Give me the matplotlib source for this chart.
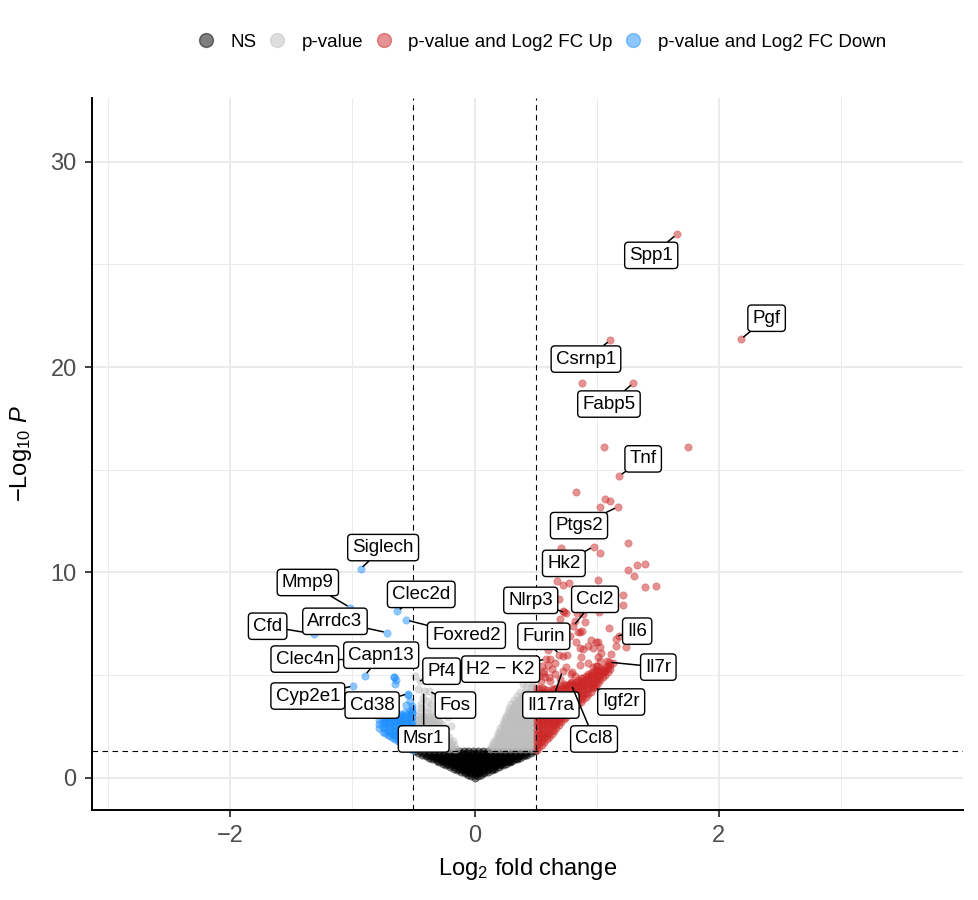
import matplotlib
matplotlib.use("Agg")
import matplotlib.pyplot as plt
from matplotlib.lines import Line2D
from matplotlib.ticker import FixedLocator

plt.rcParams.update({
    "font.family": "Liberation Sans",
    "mathtext.fontset": "custom",
    "mathtext.rm": "Liberation Sans",
    "mathtext.it": "Liberation Sans:italic",
    "mathtext.bf": "Liberation Sans:bold",
})

# ── thresholds
FC_CUT = 0.5
P_CUT = 1.301          # -log10(0.05)

# ── labelled genes: point (x, y) and label box centre (tx, ty)
lab_gene = ["Spp1", "Pgf", "Csrnp1", "Fabp5", "Tnf", "Ptgs2", "Hk2", "Nlrp3", "Ccl2",
            "Furin", "Il6", "H2 \u2212 K2", "Il7r", "Il17ra", "Igf2r", "Ccl8",
            "Siglech", "Mmp9", "Clec2d", "Cfd", "Arrdc3", "Foxred2", "Clec4n", "Capn13",
            "Cyp2e1", "Cd38", "Pf4", "Fos", "Msr1"]
lab_x = [1.654, 2.18, 1.11, 1.30, 1.185, 1.171, 0.974, 0.746, 0.809,
         0.694, 1.18, 0.584, 1.10, 0.72, 0.98, 0.79,
         -0.933, -1.018, -0.631, -1.31, -0.719, -0.557, -1.0, -0.897,
         -0.993, -0.546, -0.444, -0.375, -0.416]
lab_y = [26.46, 21.36, 21.3, 19.22, 14.7, 13.19, 11.26, 8.03, 7.39,
         6.0, 6.92, 5.78, 5.63, 5.21, 4.42, 4.56,
         10.17, 8.29, 8.12, 7.0, 7.07, 7.68, 5.75, 4.98,
         4.47, 4.1, 4.72, 4.24, 4.24]
lab_tx = [1.446, 2.39, 0.912, 1.10, 1.38, 0.855, 0.731, 0.46, 0.986,
          0.567, 1.331, 0.214, 1.504, 0.625, 1.20, 0.978,
          -0.748, -1.364, -0.436, -1.693, -1.142, -0.066, -1.389, -0.764,
          -1.364, -0.838, -0.27, -0.156, -0.416]
lab_ty = [25.44, 22.38, 20.39, 18.2, 15.53, 12.28, 10.44, 8.64, 8.69,
          6.89, 7.14, 5.29, 5.39, 3.54, 3.69, 1.89,
          11.21, 9.51, 8.93, 7.38, 7.62, 6.94, 5.78, 5.97,
          3.98, 3.54, 5.19, 3.54, 1.89]

# ── NS (black): rows of the dense V under the p threshold
ns_levels = [0.0, 0.075, 0.15, 0.225, 0.3, 0.375, 0.45, 0.525, 0.6, 0.675, 0.75,
             0.825, 0.9, 0.975, 1.05, 1.125, 1.2, 1.28]
ns_rows = [
    [0.0],
    [-0.025, 0.025],
    [-0.05, 0.0, 0.05],
    [-0.08, -0.04, 0.0, 0.04, 0.08],
    [-0.11, -0.07, -0.035, 0.0, 0.035, 0.07, 0.11],
    [-0.14, -0.10, -0.06, -0.02, 0.02, 0.06, 0.10, 0.14],
    [-0.17, -0.13, -0.09, -0.05, -0.01, 0.03, 0.07, 0.11, 0.15, 0.17],
    [-0.20, -0.16, -0.12, -0.08, -0.04, 0.0, 0.04, 0.08, 0.12, 0.16, 0.20],
    [-0.23, -0.19, -0.15, -0.11, -0.07, -0.03, 0.01, 0.05, 0.09, 0.13, 0.17, 0.21, 0.23],
    [-0.26, -0.22, -0.18, -0.14, -0.10, -0.06, -0.02, 0.02, 0.06, 0.10, 0.14, 0.18, 0.22, 0.26],
    [-0.29, -0.25, -0.21, -0.17, -0.13, -0.09, -0.05, -0.01, 0.03, 0.07, 0.11, 0.15,
     0.19, 0.23, 0.27, 0.29],
    [-0.31, -0.27, -0.23, -0.19, -0.15, -0.11, -0.07, -0.03, 0.01, 0.05, 0.09, 0.13,
     0.17, 0.21, 0.25, 0.29, 0.31],
    [-0.35, -0.31, -0.27, -0.23, -0.19, -0.15, -0.11, -0.07, -0.03, 0.01, 0.05, 0.09,
     0.13, 0.17, 0.21, 0.25, 0.29, 0.33, 0.35],
    [-0.37, -0.33, -0.29, -0.25, -0.21, -0.17, -0.13, -0.09, -0.05, -0.01, 0.03, 0.07,
     0.11, 0.15, 0.19, 0.23, 0.27, 0.31, 0.35, 0.37],
    [-0.40, -0.36, -0.32, -0.28, -0.24, -0.20, -0.16, -0.12, -0.08, -0.04, 0.0, 0.04,
     0.08, 0.12, 0.16, 0.20, 0.24, 0.28, 0.32, 0.36, 0.40],
    [-0.43, -0.39, -0.35, -0.31, -0.27, -0.23, -0.19, -0.15, -0.11, -0.07, -0.03, 0.01,
     0.05, 0.09, 0.13, 0.17, 0.21, 0.25, 0.29, 0.33, 0.37, 0.41, 0.43],
    [-0.46, -0.42, -0.38, -0.34, -0.30, -0.26, -0.22, -0.18, -0.14, -0.10, -0.06, -0.02,
     0.02, 0.06, 0.10, 0.14, 0.18, 0.22, 0.26, 0.30, 0.34, 0.38, 0.42, 0.46],
    [-0.49, -0.45, -0.41, -0.37, -0.33, -0.29, -0.25, -0.21, -0.17, -0.13, -0.09, -0.05,
     -0.01, 0.03, 0.07, 0.11, 0.15, 0.19, 0.23, 0.27, 0.31, 0.35, 0.39, 0.43, 0.47, 0.495],
]

# ── p-value only (grey): rows right and left of zero
grey_levels_r = [1.4, 1.5, 1.6, 1.7, 1.8, 1.9, 2.0, 2.1, 2.2, 2.3, 2.4, 2.5, 2.6, 2.7, 2.8,
                 2.9, 3.0, 3.1, 3.2, 3.3, 3.4, 3.5, 3.6, 3.7, 3.8, 3.9, 4.0, 4.2, 4.4]
grey_rows_r = [
    [0.13, 0.17, 0.21, 0.25, 0.29, 0.33, 0.37, 0.41, 0.45, 0.49],
    [0.15, 0.19, 0.23, 0.27, 0.31, 0.35, 0.39, 0.43, 0.47],
    [0.14, 0.18, 0.22, 0.26, 0.30, 0.34, 0.38, 0.42, 0.46, 0.49],
    [0.16, 0.20, 0.24, 0.28, 0.32, 0.36, 0.40, 0.44, 0.48],
    [0.16, 0.20, 0.24, 0.28, 0.32, 0.36, 0.40, 0.44, 0.48],
    [0.18, 0.22, 0.26, 0.30, 0.34, 0.38, 0.42, 0.46],
    [0.18, 0.22, 0.26, 0.30, 0.34, 0.38, 0.42, 0.46, 0.49],
    [0.20, 0.24, 0.28, 0.32, 0.36, 0.40, 0.44, 0.48],
    [0.19, 0.23, 0.27, 0.31, 0.35, 0.39, 0.43, 0.47],
    [0.21, 0.25, 0.29, 0.33, 0.37, 0.41, 0.45],
    [0.21, 0.25, 0.29, 0.33, 0.37, 0.41, 0.45, 0.49],
    [0.23, 0.27, 0.31, 0.35, 0.39, 0.43, 0.47],
    [0.23, 0.27, 0.31, 0.35, 0.39, 0.43, 0.47],
    [0.25, 0.29, 0.33, 0.37, 0.41, 0.45, 0.49],
    [0.24, 0.28, 0.32, 0.36, 0.40, 0.44, 0.48],
    [0.26, 0.30, 0.34, 0.38, 0.42, 0.46],
    [0.26, 0.30, 0.34, 0.38, 0.42, 0.46, 0.49],
    [0.28, 0.32, 0.36, 0.40, 0.44, 0.48],
    [0.27, 0.31, 0.35, 0.39, 0.43, 0.47],
    [0.30, 0.34, 0.38, 0.42, 0.46],
    [0.28, 0.32, 0.36, 0.40, 0.44, 0.48],
    [0.32, 0.36, 0.40, 0.44, 0.48],
    [0.30, 0.34, 0.38, 0.42, 0.46, 0.49],
    [0.34, 0.38, 0.42, 0.46],
    [0.32, 0.36, 0.40, 0.44, 0.48],
    [0.38, 0.42, 0.46],
    [0.35, 0.39, 0.43, 0.47],
    [0.37, 0.41, 0.45, 0.49],
    [0.42, 0.46, 0.49],
]
grey_levels_l = [1.4, 1.5, 1.6, 1.7, 1.8, 1.9, 2.0, 2.1, 2.2, 2.3, 2.4, 2.5, 2.6, 2.7,
                 2.8, 2.9, 3.0, 3.2, 3.4, 3.6]
grey_rows_l = [
    [-0.49, -0.45, -0.41, -0.37, -0.33, -0.29, -0.25, -0.21, -0.17, -0.15],
    [-0.47, -0.43, -0.39, -0.35, -0.31, -0.27, -0.23, -0.19],
    [-0.49, -0.45, -0.41, -0.37, -0.33, -0.29, -0.25, -0.21, -0.17],
    [-0.47, -0.43, -0.39, -0.35, -0.31, -0.27, -0.23, -0.19],
    [-0.49, -0.45, -0.41, -0.37, -0.33, -0.29, -0.25, -0.21, -0.18],
    [-0.47, -0.43, -0.39, -0.35, -0.31, -0.27, -0.23],
    [-0.49, -0.45, -0.41, -0.37, -0.33, -0.29, -0.25, -0.21],
    [-0.47, -0.43, -0.39, -0.35, -0.31, -0.27, -0.23],
    [-0.48, -0.44, -0.40, -0.36, -0.32, -0.28, -0.24],
    [-0.46, -0.42, -0.38, -0.34, -0.30, -0.26],
    [-0.48, -0.44, -0.40, -0.36, -0.32, -0.28, -0.25],
    [-0.46, -0.42, -0.38, -0.34, -0.30],
    [-0.47, -0.43, -0.39, -0.35, -0.31, -0.27],
    [-0.45, -0.41, -0.37, -0.33, -0.29],
    [-0.47, -0.43, -0.39, -0.35, -0.30],
    [-0.45, -0.41, -0.37, -0.33],
    [-0.46, -0.42, -0.38, -0.34, -0.30],
    [-0.45, -0.39, -0.33],
    [-0.44, -0.38, -0.31],
    [-0.44, -0.36, -0.30],
]
grey_extra_x = [0.40, 0.47, -0.25, -0.22, -0.42, -0.33, -0.46, -0.49, -0.27, -0.19, -0.38]
grey_extra_y = [4.55, 4.6, 3.25, 2.95, 3.9, 4.0, 4.3, 4.95, 3.6, 2.5, 3.75]

# ── up-regulated (red): dense wedge along the lower edge, by column
up_cols = [0.51, 0.53, 0.55, 0.57, 0.59, 0.61, 0.63, 0.65, 0.67, 0.69, 0.71, 0.73, 0.75,
           0.77, 0.79, 0.81, 0.83, 0.85, 0.87, 0.89, 0.91, 0.93, 0.95, 0.97, 0.99, 1.01,
           1.03, 1.05, 1.07, 1.09, 1.11, 1.13]
up_col_y = [
    [1.35, 1.55, 1.75, 1.95, 2.15, 2.35, 2.55, 2.75, 2.95, 3.15, 3.35, 3.55, 3.75, 3.95, 4.15, 4.35],
    [1.5, 1.7, 1.9, 2.1, 2.3, 2.5, 2.7, 2.9, 3.1, 3.3, 3.5, 3.7, 3.9, 4.1, 4.3],
    [1.6, 1.8, 2.0, 2.2, 2.4, 2.6, 2.8, 3.0, 3.2, 3.4, 3.6, 3.8, 4.0, 4.2, 4.35],
    [1.75, 1.95, 2.15, 2.35, 2.55, 2.75, 2.95, 3.15, 3.35, 3.55, 3.75, 3.95, 4.15, 4.3],
    [1.9, 2.1, 2.3, 2.5, 2.7, 2.9, 3.1, 3.3, 3.5, 3.7, 3.9, 4.1, 4.25],
    [2.0, 2.2, 2.4, 2.6, 2.8, 3.0, 3.2, 3.4, 3.6, 3.8, 4.0, 4.2],
    [2.15, 2.35, 2.55, 2.75, 2.95, 3.15, 3.35, 3.55, 3.75, 3.95, 4.15, 4.3],
    [2.3, 2.5, 2.7, 2.9, 3.1, 3.3, 3.5, 3.7, 3.9, 4.1, 4.3],
    [2.4, 2.6, 2.8, 3.0, 3.2, 3.4, 3.6, 3.8, 4.0, 4.2, 4.35],
    [2.55, 2.75, 2.95, 3.15, 3.35, 3.55, 3.75, 3.95, 4.15, 4.35],
    [2.7, 2.9, 3.1, 3.3, 3.5, 3.7, 3.9, 4.1, 4.3, 4.45],
    [2.85, 3.05, 3.25, 3.45, 3.65, 3.85, 4.05, 4.25, 4.45],
    [2.95, 3.15, 3.35, 3.55, 3.75, 3.95, 4.15, 4.35, 4.5],
    [3.1, 3.3, 3.5, 3.7, 3.9, 4.1, 4.3, 4.5],
    [3.2, 3.4, 3.6, 3.8, 4.0, 4.2, 4.4, 4.6],
    [3.35, 3.55, 3.75, 3.95, 4.15, 4.35, 4.55],
    [3.45, 3.65, 3.85, 4.05, 4.25, 4.45, 4.65],
    [3.6, 3.8, 4.0, 4.2, 4.4, 4.6, 4.75],
    [3.7, 3.9, 4.1, 4.3, 4.5, 4.7, 4.85],
    [3.85, 4.05, 4.25, 4.45, 4.65, 4.85],
    [3.95, 4.15, 4.35, 4.55, 4.75, 4.95],
    [4.1, 4.3, 4.5, 4.7, 4.9, 5.05],
    [4.2, 4.4, 4.6, 4.8, 5.0, 5.1],
    [4.35, 4.55, 4.75, 4.95, 5.15],
    [4.45, 4.65, 4.85, 5.05, 5.25],
    [4.6, 4.8, 5.0, 5.2],
    [4.75, 4.95, 5.15, 5.35],
    [4.9, 5.1, 5.3],
    [5.0, 5.2, 5.4],
    [5.15, 5.35, 5.5],
    [5.3, 5.5],
    [5.6],
]
# scattered red points
up_x = [0.88, 1.06, 1.745, 0.834, 1.064, 1.111, 1.023, 0.708, 1.023, 1.254, 1.328, 1.394,
        1.259, 1.303, 1.012, 0.678, 0.724, 0.771, 1.391, 1.481, 1.215, 1.215, 0.694, 0.697,
        0.842, 1.015, 0.72, 0.82, 0.864, 0.881, 1.097, 1.155, 1.155, 1.237, 0.831, 0.867,
        0.89, 0.968, 1.01, 1.032, 0.72, 0.87, 1.01, 0.97, 1.0, 1.08, 0.75, 0.79, 0.82,
        0.735, 0.79, 0.60, 0.63, 0.56, 0.66, 0.58, 0.62, 0.54, 0.86, 0.93, 0.95, 0.78,
        0.66, 0.60, 0.74, 0.90, 0.73, 0.89, 0.85, 0.99, 0.93, 1.03, 0.76, 0.62, 1.03,
        0.99, 1.06, 0.80, 0.57, 0.66, 0.61, 0.87, 0.53, 0.55, 0.70, 1.12]
up_y = [19.22, 16.1, 16.1, 13.9, 13.59, 13.5, 13.19, 11.2, 10.95, 11.43, 10.36, 10.41,
        10.12, 9.85, 9.64, 9.59, 9.37, 9.47, 9.29, 9.34, 8.9, 8.41, 8.69, 7.71,
        8.03, 8.06, 8.12, 7.64, 7.11, 7.13, 7.3, 6.75, 6.42, 6.38, 6.61, 6.32,
        6.26, 6.33, 6.61, 6.09, 5.94, 5.86, 5.86, 5.37, 5.45, 5.69, 5.37, 5.05, 4.97,
        4.56, 4.65, 5.5, 5.3, 5.1, 5.6, 4.9, 4.7, 4.7, 5.5, 5.6, 6.7, 6.9,
        6.4, 6.2, 7.0, 7.6, 8.06, 7.96, 7.09, 6.6, 6.41, 6.36, 6.0, 5.78, 5.68,
        5.44, 5.19, 5.15, 5.19, 5.05, 4.9, 4.47, 4.95, 5.45, 4.8, 6.05]

# ── down-regulated (blue): dense patch, by column
dn_cols = [-0.51, -0.53, -0.55, -0.57, -0.59, -0.61, -0.63, -0.65, -0.67, -0.69, -0.71,
           -0.73, -0.75, -0.78]
dn_col_y = [
    [1.35, 1.55, 1.75, 1.95, 2.15, 2.35, 2.55, 2.75, 2.95, 3.15, 3.35],
    [1.45, 1.65, 1.85, 2.05, 2.25, 2.45, 2.65, 2.85, 3.05, 3.25],
    [1.5, 1.7, 1.9, 2.1, 2.3, 2.5, 2.7, 2.9, 3.1],
    [1.6, 1.8, 2.0, 2.2, 2.4, 2.6, 2.8, 3.0, 3.2],
    [1.65, 1.85, 2.05, 2.25, 2.45, 2.65, 2.85, 3.05],
    [1.75, 1.95, 2.15, 2.35, 2.55, 2.75, 2.95, 3.1],
    [1.8, 2.0, 2.2, 2.4, 2.6, 2.8, 3.0],
    [1.9, 2.1, 2.3, 2.5, 2.7, 2.9, 3.05],
    [1.95, 2.15, 2.35, 2.55, 2.75, 2.95],
    [2.05, 2.25, 2.45, 2.65, 2.85, 3.0],
    [2.1, 2.3, 2.5, 2.7, 2.9],
    [2.2, 2.4, 2.6, 2.8, 2.95],
    [2.25, 2.45, 2.65, 2.85],
    [2.4, 2.6, 2.8],
]
dn_x = [-0.658, -0.647, -0.663, -0.643, -0.542, -0.512, -0.512, -0.53, -0.56]
dn_y = [4.92, 4.56, 4.89, 4.76, 4.03, 3.51, 3.19, 3.75, 3.55]

# ── build series
ns_x = [x for row in ns_rows for x in row]
ns_y = [y for y, row in zip(ns_levels, ns_rows) for _ in row]
grey_x = [x for row in grey_rows_r + grey_rows_l for x in row] + grey_extra_x
grey_y = ([y for y, row in zip(grey_levels_r, grey_rows_r) for _ in row]
          + [y for y, row in zip(grey_levels_l, grey_rows_l) for _ in row] + grey_extra_y)
red_x = [x for x, col in zip(up_cols, up_col_y) for _ in col] + up_x
red_y = [y for col in up_col_y for y in col] + up_y
blue_x = [x for x, col in zip(dn_cols, dn_col_y) for _ in col] + dn_x
blue_y = [y for col in dn_col_y for y in col] + dn_y
for gx, gy in zip(lab_x, lab_y):
    if gx > FC_CUT:
        red_x.append(gx); red_y.append(gy)
    elif gx < -FC_CUT:
        blue_x.append(gx); blue_y.append(gy)
    else:
        grey_x.append(gx); grey_y.append(gy)

COL_NS, COL_P, COL_UP, COL_DN = "black", "#BEBEBE", "#CD2626", "#1E90FF"

# ── figure
fig = plt.figure(figsize=(9.79, 9.0), dpi=100)
ax = fig.add_axes([0.094, 0.1, 0.89, 0.791])

kw = dict(s=28, alpha=0.5, linewidths=0.4, zorder=3)
ax.scatter(ns_x, ns_y, c=COL_NS, edgecolors=COL_NS, **kw)
ax.scatter(grey_x, grey_y, c=COL_P, edgecolors=COL_P, **kw)
ax.scatter(red_x, red_y, c=COL_UP, edgecolors=COL_UP, **kw)
ax.scatter(blue_x, blue_y, c=COL_DN, edgecolors=COL_DN, **kw)

ax.axvline(-FC_CUT, color="black", lw=0.8, ls=(0, (5, 4)), zorder=4)
ax.axvline(FC_CUT, color="black", lw=0.8, ls=(0, (5, 4)), zorder=4)
ax.axhline(P_CUT, color="black", lw=0.8, ls=(0, (5, 4)), zorder=4)

for g, x, y, tx, ty in zip(lab_gene, lab_x, lab_y, lab_tx, lab_ty):
    ax.annotate(g, xy=(x, y), xytext=(tx, ty), ha="center", va="center",
                fontsize=13.5, color="black", zorder=6,
                bbox=dict(boxstyle="round,pad=0.25,rounding_size=0.2",
                          fc="white", ec="black", lw=1.0),
                arrowprops=dict(arrowstyle="-", color="black", lw=1.1,
                                shrinkA=0, shrinkB=2.5))

ax.set_xlim(-3.13, 4.0)
ax.set_ylim(-1.57, 33.1)
ax.set_xticks([-2, 0, 2])
ax.set_yticks([0, 10, 20, 30])
ax.xaxis.set_minor_locator(FixedLocator([-3, -1, 1, 3]))
ax.yaxis.set_minor_locator(FixedLocator([5, 15, 25]))
ax.grid(which="major", color="#EBEBEB", lw=1.4, zorder=0)
ax.grid(which="minor", color="#EBEBEB", lw=0.7, zorder=0)
ax.set_axisbelow(True)
ax.tick_params(which="minor", length=0)
ax.tick_params(which="major", length=5, width=1.3, color="#333333",
               labelsize=17, labelcolor="#4D4D4D", pad=6)
for s in ("top", "right"):
    ax.spines[s].set_visible(False)
for s in ("left", "bottom"):
    ax.spines[s].set_linewidth(1.4)
    ax.spines[s].set_color("black")

ax.set_xlabel(r"$\mathrm{Log}_{2}$ fold change", fontsize=17, labelpad=6)
ax.set_ylabel(r"$-\mathrm{Log}_{10}\ \mathit{P}$", fontsize=17, labelpad=12)

handles = [Line2D([], [], ls="", marker="o", ms=10, color=c, alpha=0.5)
           for c in (COL_NS, COL_P, COL_UP, COL_DN)]
fig.legend(handles, ["NS", "p-value", "p-value and Log2 FC Up", "p-value and Log2 FC Down"],
           loc="center", bbox_to_anchor=(0.553, 0.953), ncol=4, frameon=False,
           fontsize=13.5, handlelength=1.0, handletextpad=0.8, columnspacing=0.6)

fig.savefig("out.png", dpi=100)
